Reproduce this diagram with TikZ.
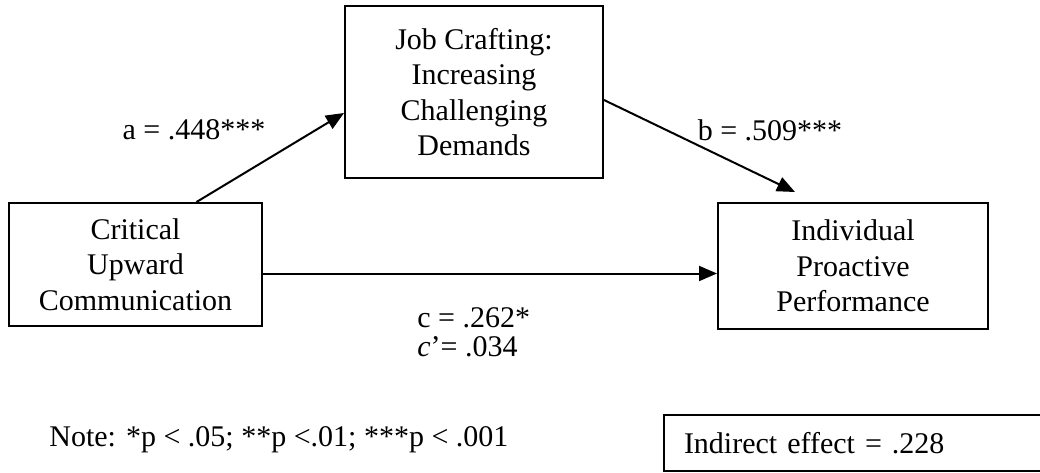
\documentclass[tikz,border=0pt]{standalone}
\usepackage{fontspec}
\setmainfont{Liberation Serif}
\usetikzlibrary{arrows.meta}
\tikzset{
	varbox/.style={draw,line width=1pt,align=center,inner sep=0pt},
	arr/.style={line width=1pt,-{Triangle[length=9pt,width=7.5pt]}},
	lbl/.style={inner sep=0pt}
}
\begin{document}
\begin{tikzpicture}[x=0.5pt,y=-0.5pt,font=\fontsize{15}{17.75}\selectfont]
	\clip (0,0) rectangle (1040,472);
	% variables
	\node[varbox,minimum width=126.5pt,minimum height=61.5pt] (crit) at (135.5,264.5) {Critical\\Upward\\Communication};
	\node[varbox,minimum width=129pt,minimum height=86pt] (job) at (474,92) {Job Crafting:\\Increasing\\Challenging\\Demands};
	\node[varbox,minimum width=135pt,minimum height=63pt] (perf) at (853,266) {Individual\\Proactive\\Performance};
	% paths
	\draw[arr] ([xshift=30.5pt]crit.north) -- ([yshift=-10.5pt]job.west);
	\draw[arr] ([yshift=-4pt]job.east) -- ([xshift=-29pt,yshift=5pt]perf.north);
	\draw[arr] ([yshift=-4.5pt]crit.east) -- ([yshift=-4.5pt]crit.east -| perf.west);
	% coefficients
	\node[lbl] (apath) at (194,130) {a = .448***};
	\node[lbl] (bpath) at (770,130) {b = .509***};
	\node[lbl,anchor=west] (cpath) at (417,318) {c = .262*};
	\node[lbl,anchor=west] (cprime) at (417,347) {\textit{c}’= .034};
	% note and indirect effect
	\node[lbl,anchor=west] (note) at (49,440) {Note: *p < .05; **p <.01; ***p < .001};
	\node[draw,line width=1pt,anchor=west,minimum width=210pt,minimum height=28pt,text width=200pt,inner xsep=10pt,inner ysep=0pt] (indirect) at (663,443) {Indirect effect = .228};
\end{tikzpicture}
\end{document}
